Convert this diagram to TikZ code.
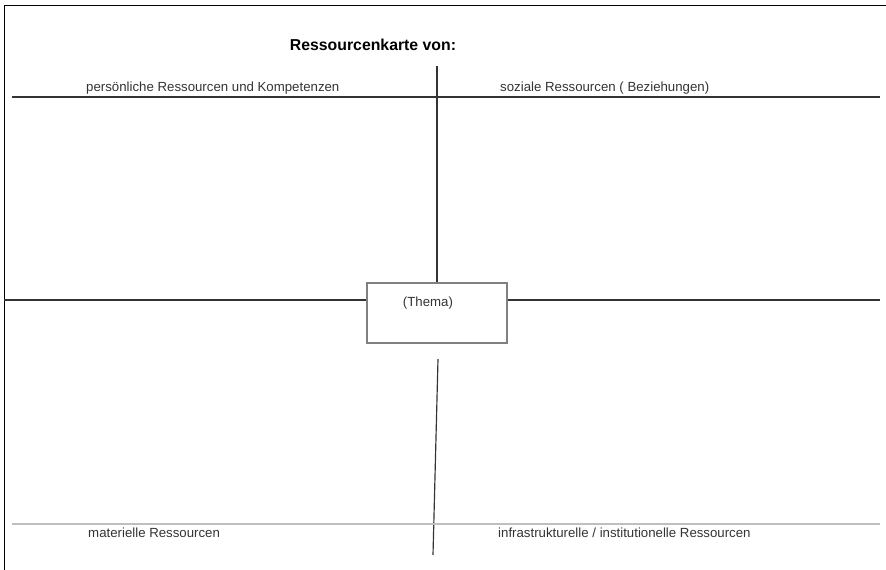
\documentclass[tikz,border=0pt]{standalone}
\usepackage{fontspec}
\setmainfont{Liberation Sans}
\usepackage{tikz}

\tikzset{
  frameline/.style={line width=0.8pt, black},
  axisline/.style={line width=1pt, black!80},
  paleline/.style={line width=1pt, black!25},
  quadlabel/.style={anchor=west, inner sep=0pt, text=black!80,
    font=\fontsize{11.3}{13}\selectfont},
  themabox/.style={draw=black!50, line width=1pt, inner sep=0pt,
    minimum width=4.2cm, minimum height=1.8cm},
}

\begin{document}
\begin{tikzpicture}[x=0.03cm, y=-0.03cm]
\useasboundingbox (0,0) rectangle (886,570);

\draw[frameline] (4,570) -- (4,5) -- (886,5);

\node[font=\fontsize{13.5}{16}\bfseries, inner sep=0pt] (title) at (373,45) {Ressourcenkarte von:};

\node[themabox] (thema) at (437,313) {};
\node[quadlabel, anchor=center] (themalabel) at (428,303) {(Thema)};

\coordinate (uptop) at (437,66);
\coordinate (upleft) at (12,97);
\coordinate (upright) at (880,97);
\coordinate (midleft) at (4,300);
\coordinate (midright) at (880,300);
\coordinate (lowtop) at (438,359);
\coordinate (lowend) at (433,555);
\coordinate (lowleft) at (12,524);
\coordinate (lowright) at (880,524);

\draw[axisline] (upleft) -- (upright);
\draw[axisline] (uptop) -- (thema.north);
\draw[axisline] (midleft) -- (midleft -| thema.west);
\draw[axisline] (midright -| thema.east) -- (midright);
\draw[axisline] (lowtop) -- (lowend);
\draw[paleline] (lowleft) -- (lowright);

\node[quadlabel] (persoenlich) at (86,88) {persönliche Ressourcen und Kompetenzen};
\node[quadlabel] (sozial) at (500,88) {soziale Ressourcen ( Beziehungen)};
\node[quadlabel] (materiell) at (88,533) {materielle Ressourcen};
\node[quadlabel] (infra) at (498,533) {infrastrukturelle / institutionelle Ressourcen};

\end{tikzpicture}
\end{document}
